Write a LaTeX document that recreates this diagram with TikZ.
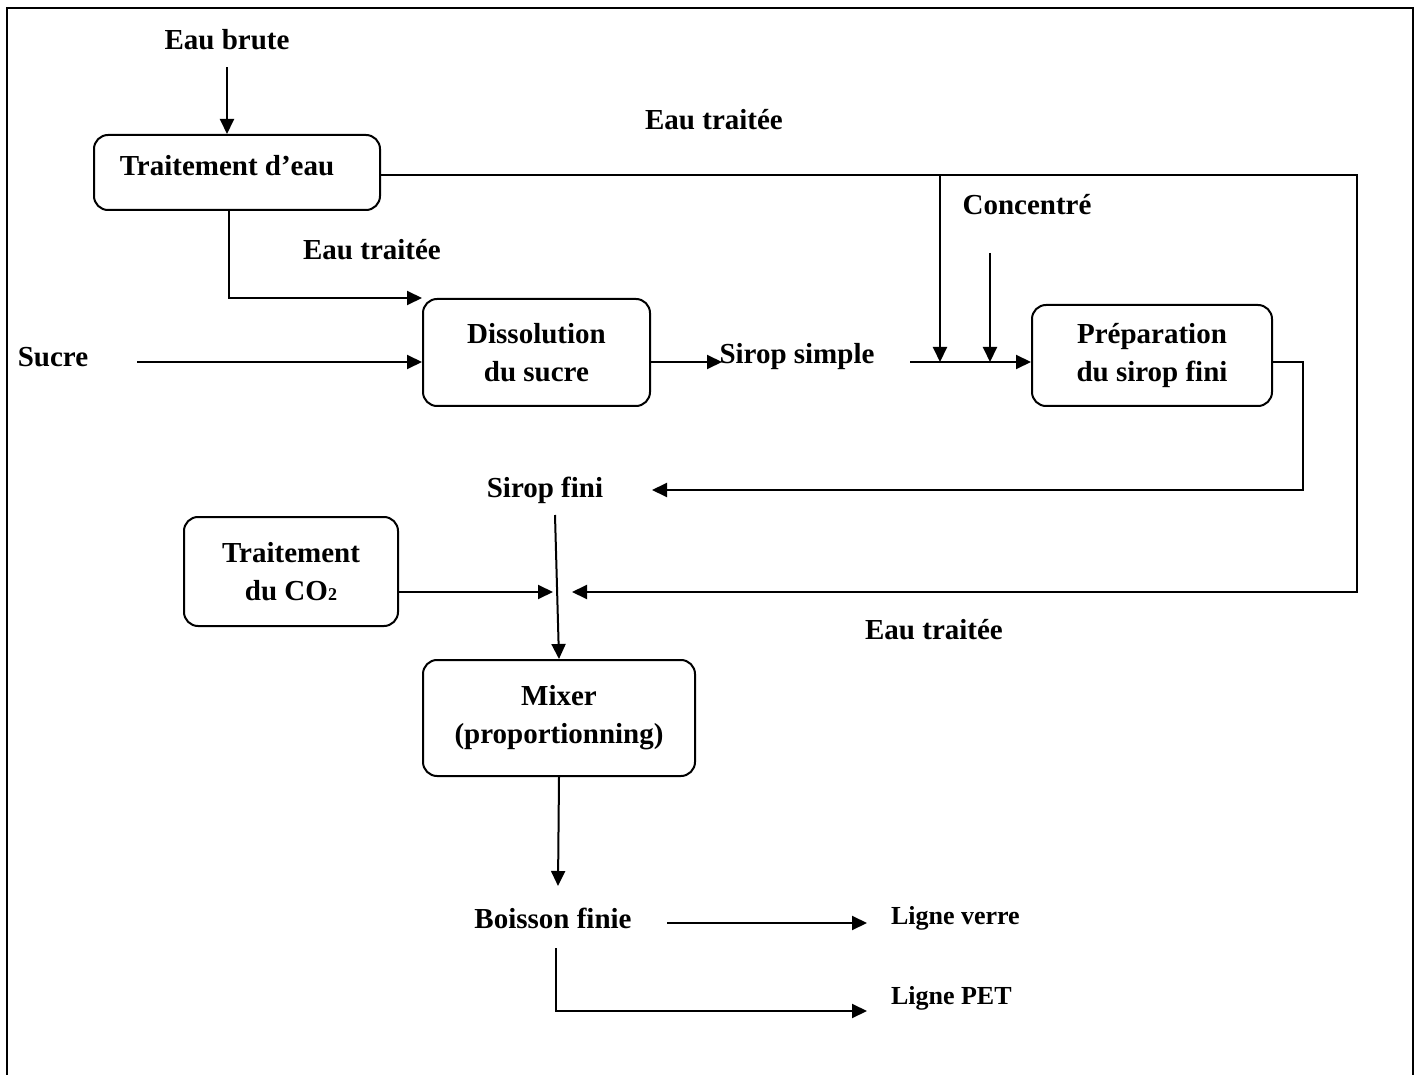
\documentclass[tikz,border=0pt]{standalone}
\usepackage{fontspec}
\setmainfont{Liberation Serif}
\usetikzlibrary{arrows.meta}
\tikzstyle{process}=[rectangle, draw, rounded corners=7pt, align=center, inner sep=0pt]
\tikzstyle{flow}=[align=center, inner sep=2pt]
\tikzstyle{small}=[font=\bfseries\fontsize{13}{16}\selectfont]

\begin{document}
\begin{tikzpicture}[x=0.5pt, y=-0.5pt, line width=1pt,
    >={Triangle[length=7.5pt, width=7pt]},
    font=\bfseries\fontsize{14.5}{19}\selectfont]
                \useasboundingbox (0,0) rectangle (1420,1075);
                \draw[line width=1.2pt] (7,1075) -- (7,8) -- (1413,8) -- (1413,1075);
                \node[process, minimum width=143pt, minimum height=37.5pt] (trt) at (237,172.5) {\raisebox{7pt}{Traitement d’eau}\hspace*{10pt}};
                \node[process, minimum width=113.5pt, minimum height=53.5pt] (dis) at (536.5,352.5) {Dissolution\\du sucre};
                \node[process, minimum width=120pt, minimum height=50.5pt] (prep) at (1152,355.5) {Préparation\\du sirop fini};
                \node[process, minimum width=107pt, minimum height=54.5pt] (co2) at (291,571.5) {Traitement\\du CO{\fontsize{9}{9}\selectfont 2}};
                \node[process, minimum width=136pt, minimum height=58pt] (mix) at (559,718) {Mixer\\(proportionning)};
                \node[flow] (brute)   at (227,40)   {Eau brute};
                \node[flow] (eau1)    at (714,120)  {Eau traitée};
                \node[flow] (eau2)    at (372,250)  {Eau traitée};
                \node[flow] (eau3)    at (934,630)  {Eau traitée};
                \node[flow] (conc)    at (1027,205) {Concentré};
                \node[flow] (sucre)   at (53,357)   {Sucre};
                \node[flow] (ssimple) at (797,357)  {Sirop simple};
                \node[flow] (sfini)   at (545,490)  {Sirop fini};
                \node[flow] (boisson) at (553,918)  {Boisson finie};
                \node[flow, small, anchor=west] (verre) at (886,918) {Ligne verre};
                \node[flow, small, anchor=west] (pet)   at (886,998) {Ligne PET};
                \coordinate (ne)    at (1357,175);
                \coordinate (se)    at (1357,592);
                \coordinate (win)   at (572,592);
                \coordinate (cin)   at (553,592);
                \coordinate (tap)   at (940,175);
                \coordinate (jw)    at (940,362);
                \coordinate (ctop)  at (990,253);
                \coordinate (jc)    at (990,362);
                \coordinate (sin)   at (910,362);
                \coordinate (sout)  at (722,362);
                \coordinate (suc)   at (137,362);
                \coordinate (pe)    at (1303,490);
                \coordinate (fin)   at (652,490);
                \coordinate (ftop)  at (555,515);
                \coordinate (mout)  at (558,886);
                \coordinate (bout)  at (667,923);
                \coordinate (vin)   at (867,923);
                \coordinate (bdown) at (556,948);
                \coordinate (pin)   at (867,1011);
                \draw[->]  ([yshift=-6pt]brute.south) -- (brute.south |- trt.north);
                \draw[->]  (trt.east |- ne) -- (ne) -- (se) -- (win);
                \draw[->]  (tap) -- (jw);
                \draw[->]  (ctop) -- (jc);
                \draw[->]  (sin) -- (sin -| prep.west);
                \draw[->]  (suc) -- (suc -| dis.west);
                \draw[->]  (dis.east |- sout) -- (sout);
                \draw[->]  ([xshift=-4pt]trt.south) |- (dis.north west);
                \draw[->]  (prep.east |- sin) -| (pe) -- (fin);
                \draw[->]  (ftop) -- (mix.north);
                \draw[->]  (co2.east |- cin) -- (cin);
                \draw[->]  (mix.south) -- (mout);
                \draw[->]  (bout) -- (vin);
                \draw[->]  (bdown) |- (pin);
            \end{tikzpicture}
\end{document}
